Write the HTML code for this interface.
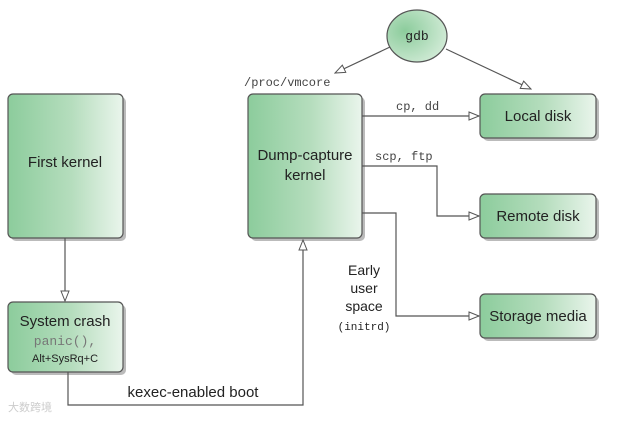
<!DOCTYPE html>
<html><head><style>
body{margin:0;background:#fff;width:643px;height:417px;overflow:hidden}
</style></head><body>
<svg width="643" height="417" xmlns="http://www.w3.org/2000/svg" font-family="Liberation Sans, sans-serif">
<defs>
<linearGradient id="g" x1="0" x2="1" y1="0" y2="0"><stop offset="0" stop-color="#8ccc9c"/><stop offset="0.55" stop-color="#b5ddbd"/><stop offset="1" stop-color="#eaf5ec"/></linearGradient>
<radialGradient id="r" cx="0.3" cy="0.4" r="0.8"><stop offset="0" stop-color="#8ccc9c"/><stop offset="1" stop-color="#d8eedc"/></radialGradient>
<marker id="a" markerWidth="12" markerHeight="10" refX="11" refY="5" orient="auto" markerUnits="userSpaceOnUse"><path d="M1,1 L11,5 L1,9 Z" fill="#fff" stroke="#555" stroke-width="1"/></marker>
</defs>
<g fill="#bbb">
<rect x="11" y="97" width="115" height="144" rx="5"/>
<rect x="11" y="305" width="115" height="70" rx="5"/>
<rect x="251" y="97" width="114" height="144" rx="5"/>
<rect x="483" y="97" width="116" height="44" rx="5"/>
<rect x="483" y="197" width="116" height="44" rx="5"/>
<rect x="483" y="297" width="116" height="44" rx="5"/>
</g>
<g fill="url(#g)" stroke="#555" stroke-width="1.2">
<rect x="8" y="94" width="115" height="144" rx="5"/>
<rect x="8" y="302" width="115" height="70" rx="5"/>
<rect x="248" y="94" width="114" height="144" rx="5"/>
<rect x="480" y="94" width="116" height="44" rx="5"/>
<rect x="480" y="194" width="116" height="44" rx="5"/>
<rect x="480" y="294" width="116" height="44" rx="5"/>
<ellipse cx="417" cy="36" rx="30" ry="26" fill="url(#r)"/>
</g>
<g stroke="#555" stroke-width="1.2" fill="none" marker-end="url(#a)">
<line x1="65" y1="238" x2="65" y2="301"/>
<polyline points="68,372 68,405 303,405 303,240"/>
<line x1="390" y1="47" x2="335" y2="73"/>
<line x1="446" y1="49" x2="531" y2="89"/>
<line x1="362" y1="116" x2="479" y2="116"/>
<polyline points="362,166 437,166 437,216 479,216"/>
<polyline points="362,213 396,213 396,316 479,316"/>
</g>
<g text-anchor="middle" fill="#222">
<text x="65" y="167" font-size="15">First kernel</text>
<text x="65" y="326" font-size="15">System crash</text>
<text x="65" y="345" font-size="13" font-family="Liberation Mono, monospace" fill="#777">panic(),</text>
<text x="65" y="362" font-size="11">Alt+SysRq+C</text>
<text x="305" y="160" font-size="15">Dump-capture</text>
<text x="305" y="180" font-size="15">kernel</text>
<text x="538" y="121" font-size="15">Local disk</text>
<text x="538" y="221" font-size="15">Remote disk</text>
<text x="538" y="321" font-size="15">Storage media</text>
<text x="417" y="40" font-size="13" font-family="Liberation Mono, monospace">gdb</text>
<text x="193" y="397" font-size="15">kexec-enabled boot</text>
<text x="364" y="275" font-size="14">Early</text>
<text x="364" y="293" font-size="14">user</text>
<text x="364" y="311" font-size="14">space</text>
<text x="364" y="330" font-size="11" font-family="Liberation Mono, monospace">(initrd)</text>
</g>
<g font-family="Liberation Mono, monospace" font-size="12" fill="#444">
<text x="244" y="86">/proc/vmcore</text>
<text x="396" y="110">cp, dd</text>
<text x="375" y="160">scp, ftp</text>
</g>
<text x="8" y="411" font-size="11" fill="#ccc">大数跨境</text>
</svg>
</body></html>
